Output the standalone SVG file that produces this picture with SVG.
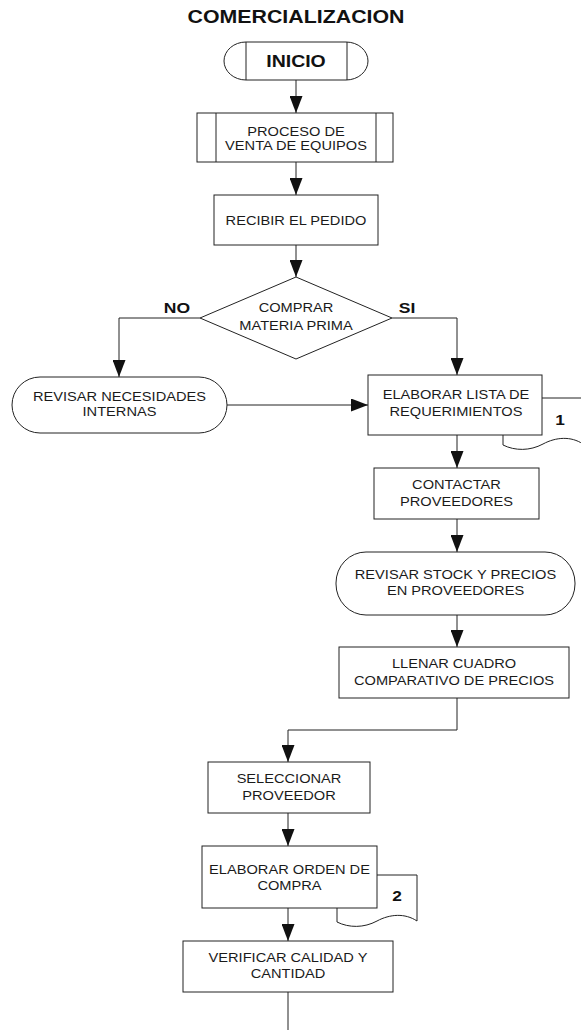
<svg xmlns="http://www.w3.org/2000/svg" width="581" height="1030" viewBox="0 0 581 1030">
  <style>
    .shape { fill: #ffffff; stroke: #222222; stroke-width: 1; }
    .line { fill: none; stroke: #222222; stroke-width: 1; }
    .lbl { font-family: "Liberation Sans", Arial, sans-serif; font-size: 12.5px; fill: #1a1a1a; text-anchor: middle; }
    .bold { font-family: "Liberation Sans", Arial, sans-serif; font-weight: bold; fill: #111111; text-anchor: middle; }
  </style>
  <defs>
    <marker id="arrow" markerUnits="userSpaceOnUse" markerWidth="17" markerHeight="13" refX="17" refY="6.5" orient="auto" viewBox="0 0 17 13">
      <path d="M0,0 L17,6.5 L0,13 Z" fill="#111111"/>
    </marker>
  </defs>

  <rect width="581" height="1030" fill="#ffffff"/>

  <!-- title -->
  <text class="bold" font-size="17.5" transform="translate(296,22.7) scale(1.22,1)">COMERCIALIZACION</text>

  <!-- document symbols sit behind their boxes -->
  <g id="doc-1">
    <path class="shape" d="M503,398 H583 V444 C571,436 556,437 543,444 C530,451 515,451 503,445 Z"/>
    <text class="bold" font-size="15" transform="translate(560,424.5) scale(1.15,1)">1</text>
  </g>
  <g id="doc-2">
    <path class="shape" d="M337,875 H417 V921 C405,913 390,914 377,921 C364,928 349,928 337,922 Z"/>
    <text class="bold" font-size="15" transform="translate(397,900.5) scale(1.15,1)">2</text>
  </g>

  <!-- connectors -->
  <g id="connectors">
    <path class="line" d="M296,80 V113" marker-end="url(#arrow)"/>
    <path class="line" d="M296,162 V195" marker-end="url(#arrow)"/>
    <path class="line" d="M296,245 V277" marker-end="url(#arrow)"/>
    <path class="line" d="M200,318 H119 V377" marker-end="url(#arrow)"/>
    <path class="line" d="M392,318 H457 V375" marker-end="url(#arrow)"/>
    <path class="line" d="M227,405 H368" marker-end="url(#arrow)"/>
    <path class="line" d="M457,435 V468" marker-end="url(#arrow)"/>
    <path class="line" d="M457,519 V552" marker-end="url(#arrow)"/>
    <path class="line" d="M457,615 V647" marker-end="url(#arrow)"/>
    <path class="line" d="M457,698 V730 H288 V762" marker-end="url(#arrow)"/>
    <path class="line" d="M288,813 V846" marker-end="url(#arrow)"/>
    <path class="line" d="M288,908 V941" marker-end="url(#arrow)"/>
    <path class="line" d="M288,992 V1030"/>
    <text class="bold" font-size="15" transform="translate(177,312.5) scale(1.17,1)">NO</text>
    <text class="bold" font-size="15" transform="translate(407,312.5) scale(1.17,1)">SI</text>
  </g>

  <g id="inicio">
    <rect class="shape" x="224" y="42" width="144" height="38" rx="22" ry="19"/>
    <path class="line" d="M246,42 V80 M347,42 V80"/>
    <text class="bold" font-size="16.5" transform="translate(296,66.5) scale(1.18,1)">INICIO</text>
  </g>

  <g id="proceso-venta">
    <rect class="shape" x="197" y="113" width="196" height="49"/>
    <path class="line" d="M216,113 V162 M376,113 V162"/>
    <text class="lbl" transform="translate(296,0) scale(1.17,1)"><tspan x="0" y="136.5">PROCESO DE</tspan><tspan x="0" y="150.5">VENTA DE EQUIPOS</tspan></text>
  </g>

  <g id="recibir-pedido">
    <rect class="shape" x="214" y="195" width="164" height="50"/>
    <text class="lbl" transform="translate(296,0) scale(1.17,1)"><tspan x="0" y="225.5">RECIBIR EL PEDIDO</tspan></text>
  </g>

  <g id="comprar-materia">
    <path class="shape" d="M296,277 L392,318 L296,359 L200,318 Z"/>
    <text class="lbl" transform="translate(296,0) scale(1.17,1)"><tspan x="0" y="312.5">COMPRAR</tspan><tspan x="0" y="330.5">MATERIA PRIMA</tspan></text>
  </g>

  <g id="revisar-necesidades">
    <rect class="shape" x="12" y="377" width="215" height="56" rx="28" ry="28"/>
    <text class="lbl" transform="translate(119.5,0) scale(1.17,1)"><tspan x="0" y="401">REVISAR NECESIDADES</tspan><tspan x="0" y="416">INTERNAS</tspan></text>
  </g>

  <g id="elaborar-lista">
    <rect class="shape" x="368" y="375" width="174" height="60"/>
    <text class="lbl" transform="translate(456,0) scale(1.17,1)"><tspan x="0" y="399.5">ELABORAR LISTA DE</tspan><tspan x="0" y="416.5">REQUERIMIENTOS</tspan></text>
  </g>

  <g id="contactar-proveedores">
    <rect class="shape" x="374" y="468" width="165" height="51"/>
    <text class="lbl" transform="translate(456.5,0) scale(1.17,1)"><tspan x="0" y="489.5">CONTACTAR</tspan><tspan x="0" y="506.5">PROVEEDORES</tspan></text>
  </g>

  <g id="revisar-stock">
    <rect class="shape" x="336" y="552" width="239" height="63" rx="30" ry="31"/>
    <text class="lbl" transform="translate(455.5,0) scale(1.17,1)"><tspan x="0" y="579.5">REVISAR STOCK Y PRECIOS</tspan><tspan x="0" y="595.5">EN PROVEEDORES</tspan></text>
  </g>

  <g id="llenar-cuadro">
    <rect class="shape" x="339" y="647" width="230" height="51"/>
    <text class="lbl" transform="translate(454,0) scale(1.17,1)"><tspan x="0" y="668.5">LLENAR CUADRO</tspan><tspan x="0" y="685.5">COMPARATIVO DE PRECIOS</tspan></text>
  </g>

  <g id="seleccionar-proveedor">
    <rect class="shape" x="208" y="762" width="162" height="51"/>
    <text class="lbl" transform="translate(289,0) scale(1.17,1)"><tspan x="0" y="783.5">SELECCIONAR</tspan><tspan x="0" y="800.5">PROVEEDOR</tspan></text>
  </g>

  <g id="elaborar-orden">
    <rect class="shape" x="202" y="846" width="175" height="62"/>
    <text class="lbl" transform="translate(289.5,0) scale(1.17,1)"><tspan x="0" y="874.5">ELABORAR ORDEN DE</tspan><tspan x="0" y="890.5">COMPRA</tspan></text>
  </g>

  <g id="verificar-calidad">
    <rect class="shape" x="183" y="941" width="210" height="51"/>
    <text class="lbl" transform="translate(288,0) scale(1.17,1)"><tspan x="0" y="962.5">VERIFICAR CALIDAD Y</tspan><tspan x="0" y="978.5">CANTIDAD</tspan></text>
  </g>
</svg>
